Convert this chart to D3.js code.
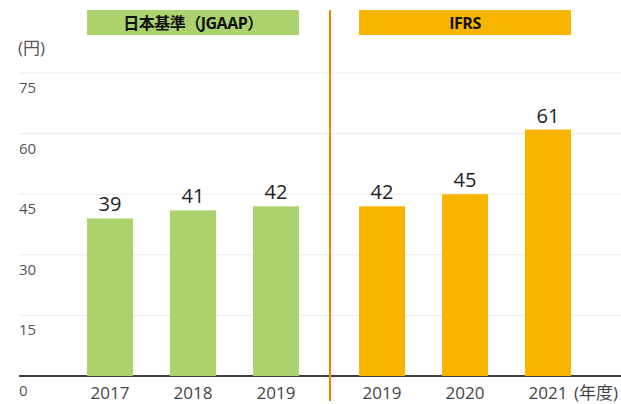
<!DOCTYPE html>
<html lang="ja">
<head>
<meta charset="utf-8">
<script src="https://cdnjs.cloudflare.com/ajax/libs/d3/7.8.5/d3.min.js"></script>
<style>
  body { margin: 0; background: #fff; }
  text { font-family: "Open Sans", "Noto Sans CJK JP", sans-serif; }
</style>
</head>
<body>
<div id="chart"></div>
<script>
  const jgaapYears = ["2017", "2018", "2019"];
  const jgaapValues = [39, 41, 42];
  const ifrsYears = ["2019", "2020", "2021"];
  const ifrsValues = [42, 45, 61];
  const yTicks = [0, 15, 30, 45, 60, 75];

  const width = 621, height = 404;
  const svg = d3.select("#chart").append("svg").attr("width", width).attr("height", height);

  const y = d3.scaleLinear().domain([0, 75]).range([376, 73]);

  const groups = [
    {name: "日本基準（JGAAP）", years: jgaapYears, values: jgaapValues, color: "#acd26e", range: [68.5, 317.5]},
    {name: "IFRS", years: ifrsYears, values: ifrsValues, color: "#f8b500", range: [340.5, 589.5]}
  ];

  // grid
  const grid = svg.append("g");
  yTicks.forEach(function(t){
    grid.append("line")
      .attr("x1", 19).attr("x2", width)
      .attr("y1", y(t)).attr("y2", y(t))
      .attr("stroke", t === 0 ? "#000" : "#ebebeb")
      .attr("stroke-width", t === 0 ? 1.3 : 1);
    grid.append("text")
      .attr("x", 19).attr("y", y(t) + 20)
      .attr("font-size", 15).attr("fill", "#555")
      .text(t);
  });

  svg.append("text").attr("x", 18).attr("y", 54)
    .attr("font-size", 17).attr("fill", "#555").text("(円)");

  groups.forEach(function(gr){
    const x = d3.scaleBand().domain(gr.years).range(gr.range).paddingInner(0.446).paddingOuter(0.223);
    const g = svg.append("g");
    const data = gr.years.map(function(yr, i){ return {year: yr, value: gr.values[i]}; });

    g.selectAll("rect.bar").data(data).enter().append("rect")
      .attr("class", "bar")
      .attr("x", function(d){ return x(d.year); })
      .attr("width", x.bandwidth())
      .attr("y", function(d){ return y(d.value); })
      .attr("height", function(d){ return y(0) - y(d.value); })
      .attr("fill", gr.color);

    g.selectAll("text.val").data(data).enter().append("text")
      .attr("class", "val")
      .attr("x", function(d){ return x(d.year) + x.bandwidth() / 2; })
      .attr("y", function(d){ return y(d.value) - 7; })
      .attr("text-anchor", "middle").attr("font-size", 20).attr("fill", "#222")
      .text(function(d){ return d.value; });

    g.selectAll("text.yr").data(data).enter().append("text")
      .attr("class", "yr")
      .attr("x", function(d){ return x(d.year) + x.bandwidth() / 2; })
      .attr("y", 399)
      .attr("text-anchor", "middle").attr("font-size", 17).attr("fill", "#444")
      .text(function(d){ return d.year; });

    const x0 = x(gr.years[0]), x1 = x(gr.years[gr.years.length - 1]) + x.bandwidth();
    g.append("rect").attr("x", x0).attr("y", 10).attr("width", x1 - x0).attr("height", 25)
      .attr("fill", gr.color);
    g.append("text").attr("x", (x0 + x1) / 2).attr("y", 29)
      .attr("text-anchor", "middle").attr("font-size", 16).attr("font-weight", "bold").attr("fill", "#111")
      .attr("letter-spacing", -0.5)
      .text(gr.name);
  });

  svg.append("text").attr("x", 574).attr("y", 399)
    .attr("font-size", 17).attr("fill", "#444").text("(年度)");

  svg.append("line").attr("x1", 330).attr("x2", 330).attr("y1", 10).attr("y2", 401)
    .attr("stroke", "#f08300").attr("stroke-width", 2);
</script>
</body>
</html>
